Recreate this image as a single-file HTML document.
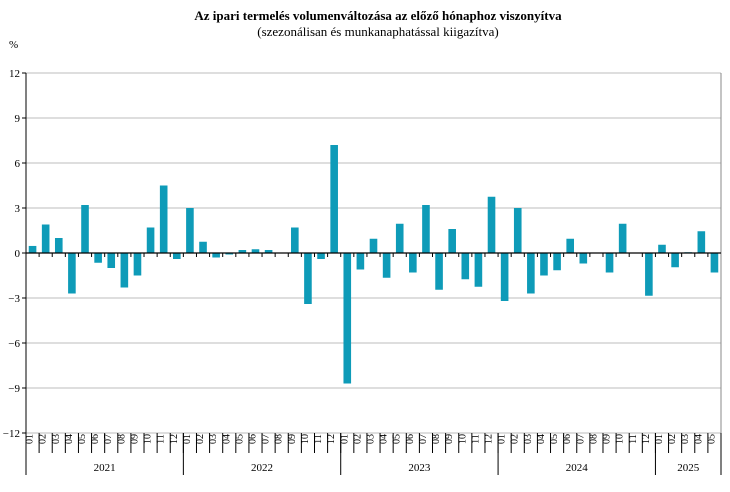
<!DOCTYPE html>
<html><head><meta charset="utf-8"><style>
body{margin:0;background:#fff;width:730px;height:487px;overflow:hidden;font-family:"Liberation Serif",serif}
</style></head><body>
<svg width="730" height="487" id="c" font-family="Liberation Serif, serif">
<text x="378" y="20" text-anchor="middle" font-size="13" font-weight="bold">Az ipari  termelés volumenváltozása az előző hónaphoz viszonyítva</text>
<text x="378" y="36" text-anchor="middle" font-size="13">(szezonálisan és munkanaphatással kiigazítva)</text>
<text x="9" y="48" font-size="11">%</text>
</svg>
<script>
const years=["2021","2022","2023","2024","2025"];
const months=["01","02","03","04","05","06","07","08","09","10","11","12"];
const yTicks=[12,9,6,3,0,-3,-6,-9,-12];
const values=[0.47,1.9,1.0,-2.7,3.2,-0.65,-1.0,-2.3,-1.5,1.7,4.5,-0.4,
3.0,0.75,-0.3,-0.1,0.2,0.25,0.2,0,1.7,-3.4,-0.4,7.2,
-8.7,-1.1,0.95,-1.65,1.95,-1.3,3.2,-2.45,1.6,-1.75,-2.25,3.75,
-3.2,3.0,-2.7,-1.5,-1.15,0.95,-0.7,0,-1.3,1.95,0,-2.85,
0.55,-0.95,0.05,1.45,-1.3];
const svg=document.getElementById('c');const NS='http://www.w3.org/2000/svg';
const L=26,R=721,T=73,B=433;
const y=v=>253-v*(B-T)/24;
const n=values.length,slot=(R-L)/n;
const x=i=>L+i*slot;
function mk(t,a){const e=document.createElementNS(NS,t);for(const k in a)e.setAttribute(k,a[k]);svg.appendChild(e);return e;}
yTicks.forEach(t=>{
 const g=mk('line',{x1:L,x2:R,y1:y(t),y2:y(t),stroke:'#bdbdbd','stroke-width':1});
 
 
 const tk=mk('line',{x1:L-4,x2:L,y1:y(t),y2:y(t),stroke:'#000'});
 
 
 const tx=mk('text',{x:L-6,y:y(t)+4,'text-anchor':'end','font-size':11});
 tx.textContent=t>=0?t:'−'+(-t);
 
 
});
mk('line',{x1:R,x2:R,y1:T,y2:B,stroke:'#888'});
values.forEach((v,i)=>{
 const bw=slot*0.58,bx=x(i)+(slot-bw)/2;
 const r=mk('rect',{x:bx,y:Math.min(y(v),y(0)),width:bw,height:Math.max(Math.abs(y(v)-y(0)),0.5),fill:'#0e9bb8'});
 
 
 const mt=mk('line',{x1:x(i),x2:x(i),y1:253,y2:257,stroke:'#000'});
 
 
 const sep=mk('line',{x1:x(i),x2:x(i),y1:B,y2:453,stroke:'#000'});
 
 
 const cx=x(i)+slot/2;
 const ml=mk('text',{x:cx+4,y:443,'text-anchor':'middle','font-size':10,transform:`rotate(-90 ${cx} 443)`});
 ml.textContent=months[i%12];
 
 
});
const z=mk('line',{x1:L,x2:R,y1:253,y2:253,stroke:'#000','stroke-width':1.2});


mk('line',{x1:R,x2:R,y1:B,y2:453,stroke:'#000'});
mk('line',{x1:L,x2:L,y1:T,y2:475,stroke:'#000'});
years.forEach((yr,k)=>{
 const s=k*12,e=Math.min(n,s+12);
 const d=mk('line',{x1:x(e),x2:x(e),y1:B,y2:475,stroke:'#000'});
 
 
 const t=mk('text',{x:(x(s)+x(e))/2,y:471,'text-anchor':'middle','font-size':11});
 t.textContent=yr;
 
 
});
</script>
</body></html>
